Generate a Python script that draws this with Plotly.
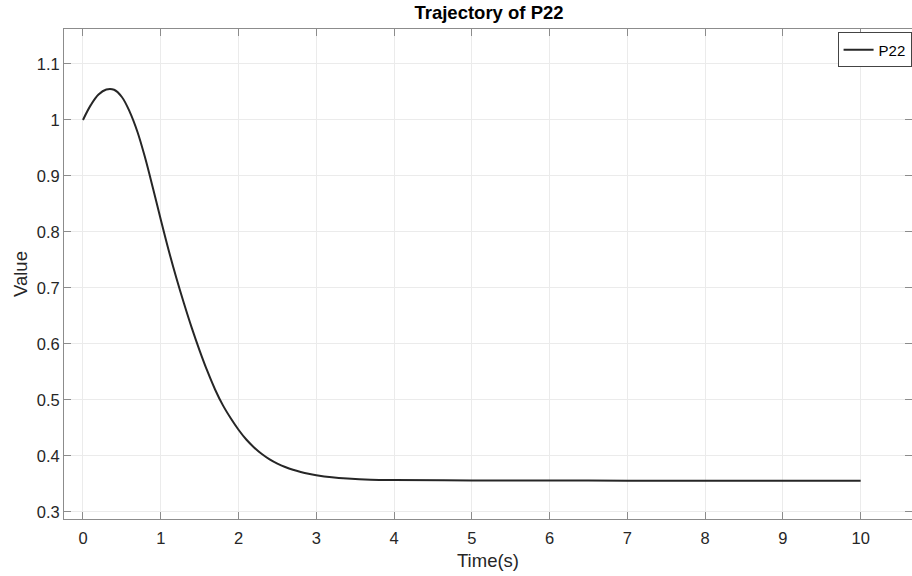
import plotly.graph_objects as go

# Data
time_s = [0.0, 0.1, 0.2, 0.3, 0.4, 0.5, 0.6, 0.7, 0.8, 0.9, 1.0, 1.1, 1.2, 1.3, 1.4, 1.5,
          1.6, 1.7, 1.8, 1.9, 2.0, 2.1, 2.2, 2.3, 2.4, 2.5, 2.6, 2.7, 2.8, 2.9, 3.0, 3.2,
          3.4, 3.7, 4.0, 5.0, 6.0, 7.0, 8.0, 9.0, 10.0]
p22 = [1.0, 1.0265, 1.0455, 1.0545, 1.054, 1.041, 1.015, 0.979, 0.932, 0.878, 0.822, 0.768,
       0.718, 0.6715, 0.628, 0.588, 0.551, 0.518, 0.490, 0.467, 0.4465, 0.429, 0.4149, 0.4031,
       0.3936, 0.386, 0.3799, 0.3749, 0.371, 0.3678, 0.3653, 0.3616, 0.3593, 0.3572, 0.3565,
       0.356, 0.3557, 0.3555, 0.3553, 0.3552, 0.3552]

x_ticks = [0, 1, 2, 3, 4, 5, 6, 7, 8, 9, 10]
y_ticks = [0.3, 0.4, 0.5, 0.6, 0.7, 0.8, 0.9, 1.0, 1.1]
y_tick_labels = ["0.3", "0.4", "0.5", "0.6", "0.7", "0.8", "0.9", "1", "1.1"]

FONT = "Liberation Sans, Arial, Helvetica, sans-serif"
AX = "#8c8c8c"
TXT = "#262626"

fig = go.Figure()
fig.add_trace(go.Scatter(x=time_s, y=p22, mode="lines", name="P22",
                         line=dict(color="#262626", width=2, shape="spline", smoothing=1.0)))

fig.update_layout(
    width=912, height=576,
    margin=dict(l=64, r=0, t=29, b=57),
    paper_bgcolor="white", plot_bgcolor="white",
    font=dict(family=FONT, color=TXT, size=16),
    title=dict(text="<b>Trajectory of P22</b>", x=489/912, xanchor="center",
               y=1 - 13/576, yref="container", yanchor="middle",
               font=dict(size=18.5, color="#000000", family=FONT)),
    showlegend=True,
    legend=dict(x=0.9995, xanchor="right", y=0.993, yanchor="top",
                bgcolor="white", bordercolor="#444444", borderwidth=1,
                font=dict(size=15, color="#000000"), itemwidth=30,
                tracegroupgap=0),
)

fig.update_xaxes(range=[-0.244, 10.66], tickvals=x_ticks, ticktext=[str(v) for v in x_ticks],
                 showgrid=True, gridcolor="#ebebeb", gridwidth=1,
                 showline=True, linecolor=AX, linewidth=1, mirror="ticks",
                 ticks="inside", ticklen=7, tickcolor=AX, tickwidth=1,
                 ticklabelstandoff=4,
                 tickfont=dict(size=16.5, color=TXT), zeroline=False,
                 title=dict(text="Time(s)", font=dict(size=18.5, color=TXT), standoff=8))
fig.update_yaxes(range=[0.287, 1.1625], tickvals=y_ticks, ticktext=y_tick_labels,
                 showgrid=True, gridcolor="#ebebeb", gridwidth=1,
                 showline=True, linecolor=AX, linewidth=1, mirror="ticks",
                 ticks="inside", ticklen=7, tickcolor=AX, tickwidth=1,
                 tickfont=dict(size=16.5, color=TXT), zeroline=False,
                 title=dict(text="Value", font=dict(size=18.5, color=TXT), standoff=4))

fig.write_html("out.html")
